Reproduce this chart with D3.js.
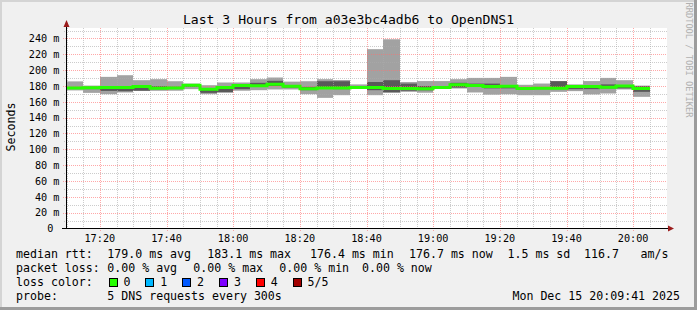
<!DOCTYPE html>
<html>
<head>
<meta charset="utf-8">
<script src="https://cdn.jsdelivr.net/npm/d3@7"></script>
<style>
  body { margin: 0; background: #f0f0f0; }
  text { font-family: "DejaVu Sans Mono", monospace; white-space: pre; }
</style>
</head>
<body>
<div id="chart"></div>
<script>
// 5 minute slots (start time of each column)
const slots = ["17:10","17:15","17:20","17:25","17:30","17:35","17:40","17:45","17:50","17:55",
  "18:00","18:05","18:10","18:15","18:20","18:25","18:30","18:35","18:40","18:45",
  "18:50","18:55","19:00","19:05","19:10","19:15","19:20","19:25","19:30","19:35",
  "19:40","19:45","19:50","19:55","20:00"];

// sorted ping values per slot (ms)
const pingMin = [174.4,171.3,169.6,171.8,173.9,173.9,174.0,176.0,169.6,171.8,
  174.0,174.7,175.6,175.6,169.6,165.0,168.4,176.8,168.4,171.5,
  172.6,171.5,176.7,176.8,171.8,169.0,169.5,168.4,168.4,172.6,
  173.5,169.3,170.5,175.6,166.3];
const pingLow = [176.5,176.0,173.8,173.4,174.0,176.0,176.5,179.0,171.3,172.0,
  176.0,179.0,180.0,178.0,174.7,176.5,176.0,177.0,174.7,172.0,
  174.0,174.5,177.5,178.0,179.0,177.0,177.0,175.0,176.0,176.0,
  176.0,176.0,177.0,177.0,172.6];
const median = [177.6,177.8,178.0,178.0,179.2,177.2,177.6,181.0,176.0,178.0,
  180.5,180.4,182.3,179.7,176.4,177.6,177.6,178.0,178.0,176.7,
  176.8,176.4,178.2,181.5,180.5,179.2,179.8,176.8,177.0,177.2,
  179.2,179.2,178.5,180.0,176.7];
const pingHigh = [178.5,179.0,179.0,179.0,180.0,179.7,179.0,182.0,177.0,179.0,
  181.5,184.0,186.5,181.0,178.9,186.0,186.0,179.0,185.0,187.3,
  183.0,180.0,179.0,184.0,183.0,183.0,181.0,178.0,178.1,186.0,
  180.0,180.0,182.0,181.0,179.7];
const pingMax = [185.8,180.5,191.5,193.6,187.3,188.6,186.0,183.0,181.0,184.4,
  184.4,188.6,190.7,185.5,186.0,188.6,187.5,182.0,226.5,239.0,
  185.0,186.2,186.2,188.6,190.2,190.2,191.5,181.5,183.1,186.2,
  182.0,186.2,190.2,187.3,180.5];

const xTicks = ["17:20","17:40","18:00","18:20","18:40","19:00","19:20","19:40","20:00"];
const yTicks = [0,20,40,60,80,100,120,140,160,180,200,220,240];

const title = "Last 3 Hours from a03e3bc4adb6 to OpenDNS1";
const rttStats = ["179.0 ms avg","183.1 ms max","176.4 ms min","176.7 ms now","1.5 ms sd","116.7","am/s"];
const lossStats = ["0.00 % avg","0.00 % max","0.00 % min","0.00 % now"];
const lossLabels = ["0","1","2","3","4","5/5"];
const lossColors = ["#26ff00","#00b8ff","#0059ff","#7e00ff","#ff0000","#a10000"];
const probeText = "5 DNS requests every 300s";
const stamp = "Mon Dec 15 20:09:41 2025";

const w = 697, h = 310;
const toDate = (s) => { const [hh, mm] = s.split(":").map(Number); return new Date(2025, 11, 15, hh, mm); };

const svg = d3.select("#chart").append("svg").attr("width", w).attr("height", h);

// background + 3d frame
svg.append("rect").attr("width", w).attr("height", h).attr("fill", "#f0f0f0");
svg.append("rect").attr("x", 0).attr("y", 0).attr("width", w).attr("height", 2).attr("fill", "#d4d4d4");
svg.append("rect").attr("x", 0).attr("y", 0).attr("width", 2).attr("height", h).attr("fill", "#d4d4d4");
svg.append("rect").attr("x", w - 3).attr("y", 0).attr("width", 3).attr("height", h).attr("fill", "#9c9c9c");
svg.append("rect").attr("x", 0).attr("y", h - 3).attr("width", w).attr("height", 3).attr("fill", "#9c9c9c");

// scales
const x = d3.scaleTime()
  .domain([toDate("17:10"), toDate("20:10")])
  .range([66.5, 666.5]);
const y = d3.scaleLinear().domain([0, 252.6]).range([228.5, 28.5]);

// canvas
svg.append("rect")
  .attr("x", 67).attr("y", 28)
  .attr("width", 600).attr("height", 200)
  .attr("fill", "#ffffff");

// smoke
const step = 5 * 60 * 1000;
const cols = slots.map((s, i) => ({
  t: toDate(s), min: pingMin[i], low: pingLow[i], med: median[i], high: pingHigh[i], max: pingMax[i]
}));
const colX = (d) => Math.round(x(d.t));
const colW = (d) => Math.round(x(new Date(+d.t + step))) - Math.round(x(d.t));

svg.append("g").selectAll("rect").data(cols).enter().append("rect")
  .attr("x", colX).attr("width", colW)
  .attr("y", (d) => y(d.max)).attr("height", (d) => y(d.min) - y(d.max))
  .attr("fill", "#a2a2a2");
svg.append("g").selectAll("rect").data(cols).enter().append("rect")
  .attr("x", colX).attr("width", colW)
  .attr("y", (d) => y(d.high)).attr("height", (d) => y(d.low) - y(d.high))
  .attr("fill", "#595959");

// grid
const grid = svg.append("g");
const minorX = d3.timeMinute.every(5).range(toDate("17:10"), toDate("20:10"));
minorX.forEach((t) => {
  const major = t.getMinutes() % 20 === 0;
  grid.append("line")
    .attr("x1", Math.round(x(t)) + 0.5).attr("x2", Math.round(x(t)) + 0.5)
    .attr("y1", 28).attr("y2", major ? 231 : 228)
    .attr("stroke", major ? "rgba(255,110,110,0.6)" : "rgba(170,170,170,0.6)")
    .attr("stroke-dasharray", "1,1");
});
d3.range(10, 251, 10).forEach((v) => {
  const major = v % 20 === 0;
  grid.append("line")
    .attr("x1", major ? 63 : 64).attr("x2", 667)
    .attr("y1", Math.round(y(v)) + 0.5).attr("y2", Math.round(y(v)) + 0.5)
    .attr("stroke", major ? "rgba(255,110,110,0.6)" : "rgba(170,170,170,0.6)")
    .attr("stroke-dasharray", "1,1");
});

// median line
const medPts = cols.concat([{ t: new Date(+cols[cols.length - 1].t + step), med: cols[cols.length - 1].med }]);
svg.append("path")
  .datum(medPts)
  .attr("fill", "none")
  .attr("stroke", lossColors[0])
  .attr("stroke-width", 3)
  .attr("d", d3.line().x((d) => Math.round(x(d.t))).y((d) => y(d.med)).curve(d3.curveStepAfter));

// axes
svg.append("line").attr("x1", 66.5).attr("x2", 66.5).attr("y1", 229).attr("y2", 24)
  .attr("stroke", "#000");
svg.append("line").attr("x1", 62).attr("x2", 669).attr("y1", 228.5).attr("y2", 228.5)
  .attr("stroke", "#000");
svg.append("path").attr("d", "M63.5,27 L66.5,20 L69.5,27 Z").attr("fill", "#9b1c1c");
svg.append("path").attr("d", "M668,225.5 L674,228.5 L668,231.5 Z").attr("fill", "#9b1c1c");

// y labels
svg.append("g").selectAll("text").data(yTicks).enter().append("text")
  .attr("x", 59.5)
  .attr("y", (d) => y(d) + 3.7)
  .attr("text-anchor", "end")
  .attr("font-size", "10.2px")
  .attr("fill", "#000")
  .text((d) => (d === 0 ? "0 " : d + " m"));

// x labels
svg.append("g").selectAll("text").data(xTicks).enter().append("text")
  .attr("x", (d) => x(toDate(d)))
  .attr("y", 242)
  .attr("text-anchor", "middle")
  .attr("font-size", "10.2px")
  .attr("fill", "#000")
  .text((d) => d);

// title, unit, watermark
svg.append("text").attr("x", 348.5).attr("y", 24).attr("text-anchor", "middle")
  .attr("font-size", "13.1px").attr("fill", "#000").text(title);
svg.append("text").attr("transform", "translate(14.5,127) rotate(-90)")
  .attr("text-anchor", "middle").attr("font-size", "11.6px").attr("fill", "#000").text("Seconds");
svg.append("text").attr("transform", "translate(686,60) rotate(90)")
  .attr("text-anchor", "middle").attr("font-size", "8.7px").attr("fill", "#b0b0b0")
  .text("RRDTOOL / TOBI OETIKER");

// legend
const lg = svg.append("g").attr("font-size", "11.6px").attr("fill", "#000");
const rows = [257.5, 271.5, 285.5, 299.5];
lg.append("text").attr("x", 16).attr("y", rows[0]).text("median rtt:");
const rttX = [107.3, 207.3, 310, 409, 507.5, 584, 640.5];
rttStats.forEach((s, i) => lg.append("text").attr("x", rttX[i]).attr("y", rows[0]).text(s));

lg.append("text").attr("x", 16).attr("y", rows[1]).text("packet loss:");
const lossX = [107.3, 193.3, 279.3, 362];
lossStats.forEach((s, i) => lg.append("text").attr("x", lossX[i]).attr("y", rows[1]).text(s));

lg.append("text").attr("x", 16).attr("y", rows[2]).text("loss color:");
lossLabels.forEach((s, i) => {
  const bx = 108.5 + i * 36.8;
  lg.append("rect").attr("x", Math.round(bx) + 0.5).attr("y", 278.5)
    .attr("width", 8).attr("height", 8)
    .attr("fill", lossColors[i]).attr("stroke", "#000");
  lg.append("text").attr("x", bx + 15).attr("y", rows[2]).text(s);
});

lg.append("text").attr("x", 16).attr("y", rows[3]).text("probe:");
lg.append("text").attr("x", 107.3).attr("y", rows[3]).text(probeText);
lg.append("text").attr("x", 680).attr("y", rows[3]).attr("text-anchor", "end").text(stamp);
</script>
</body>
</html>
